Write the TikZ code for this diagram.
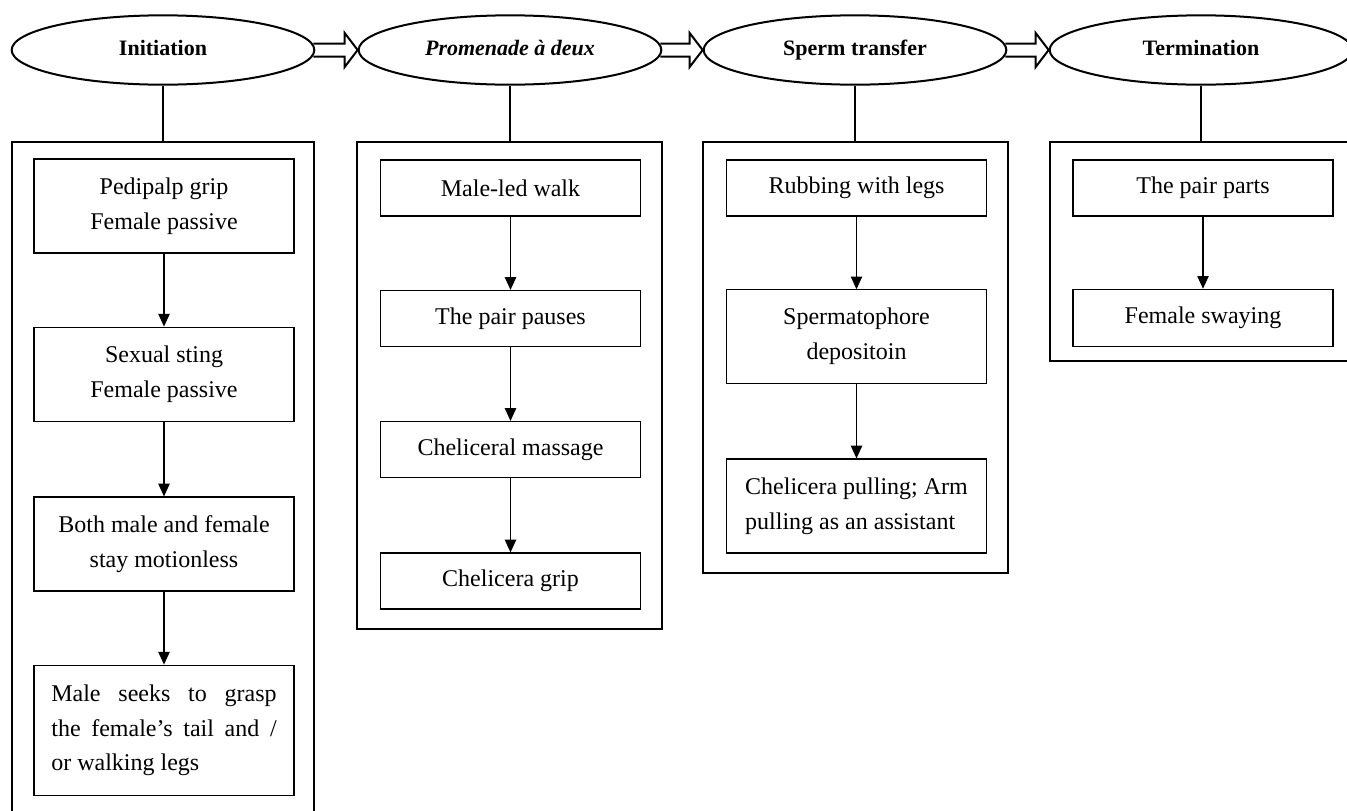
\documentclass[tikz,border=0pt]{standalone}
\usepackage{fontspec}
\setmainfont{Liberation Serif}
\usetikzlibrary{shapes.geometric, arrows.meta, calc}
\tikzset{
  phase/.style   = {draw, ellipse, line width=1.5pt, minimum width=227pt,
                    minimum height=52pt, inner sep=0pt, text height=11.5pt,
                    text depth=3.5pt, font=\fontsize{16.5}{18}\selectfont\bfseries},
  frm/.style     = {draw, rectangle, line width=1.6pt, inner sep=0pt},
  stepbox/.style = {draw, rectangle, line width=0.9pt, minimum width=195pt,
                    align=center, inner sep=0pt,
                    font=\fontsize{18}{26}\selectfont},
  ar/.style      = {-{Triangle[length=9.5pt, width=8.5pt]}, line width=0.8pt},
  blk/.style     = {line width=1.5pt, line join=miter},
  link/.style    = {line width=1.6pt},
}

\begin{document}
\begin{tikzpicture}[x=0.75pt, y=-0.75pt]
  \useasboundingbox (0,0) rectangle (1347,811);
  \clip (0,0) rectangle (1347,811);

  % phases
  \node[phase] (init)  at (163,50)  {Initiation};
  \node[phase] (prom)  at (510,50)  {\textit{Promenade à deux}};
  \node[phase] (sperm) at (855,50)  {Sperm transfer};
  \node[phase] (term)  at (1201,50) {Termination};

  \foreach \a/\b in {init/prom, prom/sperm, sperm/term}
    \draw[blk] ($(\a.east)+(-2,-6.5)$) -- ($(\b.west)+(-13,-6.5)$) -- ++(0,-10.5)
      -- (\b.west) -- ($(\b.west)+(-13,17)$) -- ++(0,-10.5)
      -- ($(\a.east)+(-2,6.5)$);

  % frames
  \node[frm, minimum width=226.5pt, minimum height=520pt, anchor=north] (f1) at (163,141) {};
  \node[frm, minimum width=228.5pt, minimum height=365pt, anchor=north] (f2) at (509.5,141) {};
  \node[frm, minimum width=228.5pt, minimum height=323pt, anchor=north] (f3) at (855.5,141) {};
  \node[frm, minimum width=226.5pt, minimum height=164pt, anchor=north] (f4) at (1201,141) {};

  \draw[link] (init.south)  -- (init.south |- f1.north);
  \draw[link] (prom.south)  -- (prom.south |- f2.north);
  \draw[link] (sperm.south) -- (sperm.south |- f3.north);
  \draw[link] (term.south)  -- (term.south |- f4.north);

  % initiation
  \node[stepbox, minimum height=70.5pt] (i1) at (164,206)   {Pedipalp grip\\Female passive};
  \node[stepbox, minimum height=71pt]   (i2) at (164,374.5) {Sexual sting\\Female passive};
  \node[stepbox, minimum height=70.5pt] (i3) at (164,544)   {Both male and female\\stay motionless};
  \node[stepbox, minimum height=98pt, align=justify, text width=169pt] (i4) at (164,730.5)
    {Male seeks to grasp\linebreak the female's tail and /\linebreak or walking legs};

  % promenade
  \node[stepbox, minimum height=42pt] (p1) at (510.5,188)   {Male-led walk};
  \node[stepbox, minimum height=42pt] (p2) at (510.5,318.5) {The pair pauses};
  \node[stepbox, minimum height=42pt] (p3) at (510.5,449.5) {Cheliceral massage};
  \node[stepbox, minimum height=42pt] (p4) at (510.5,581)   {Chelicera grip};

  % sperm transfer
  \node[stepbox, minimum height=42pt]   (s1) at (856.5,188)   {Rubbing with legs};
  \node[stepbox, minimum height=70pt]   (s2) at (856.5,336.5) {Spermatophore\\depositoin};
  \node[stepbox, minimum height=70.5pt, align=left] (s3) at (856.5,506)
    {Chelicera pulling; Arm\\pulling as an assistant};

  % termination
  \node[stepbox, minimum height=42pt] (t1) at (1203,188) {The pair parts};
  \node[stepbox, minimum height=43pt] (t2) at (1203,318) {Female swaying};

  \foreach \u/\v in {i1/i2, i2/i3, i3/i4, p1/p2, p2/p3, p3/p4, s1/s2, s2/s3, t1/t2}
    \draw[ar] (\u) -- (\v);
\end{tikzpicture}
\end{document}
